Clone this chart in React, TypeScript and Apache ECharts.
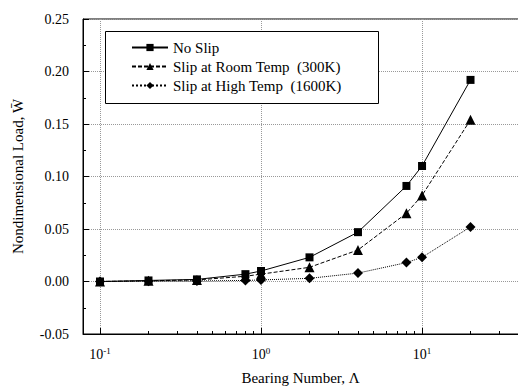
import React, { useEffect, useRef } from "react";
import * as echarts from "echarts";

const bearingNumbers = [0.1, 0.2, 0.4, 0.8, 1, 2, 4, 8, 10, 20];
const noSlip = [0.0, 0.001, 0.002, 0.007, 0.010, 0.023, 0.047, 0.091, 0.110, 0.192];
const slipRoom = [0.0, 0.0007, 0.0015, 0.005, 0.007, 0.0135, 0.030, 0.065, 0.082, 0.154];
const slipHigh = [0.0, 0.0003, 0.0005, 0.001, 0.0015, 0.003, 0.008, 0.018, 0.023, 0.052];
const seriesNames = ["No Slip", "Slip at Room Temp  (300K)", "Slip at High Temp  (1600K)"];
const majorTicks = [0.1, 1, 10];
const minorTicks = [0.2, 0.3, 0.4, 0.5, 0.6, 0.7, 0.8, 0.9, 2, 3, 4, 5, 6, 7, 8, 9, 20, 30, 40, 50];

const FONT = "Liberation Serif";

export default function App() {
  const ref = useRef<HTMLDivElement>(null);
  useEffect(() => {
    const chart = echarts.init(ref.current!, null, { renderer: "svg" });
    const pair = (ys: number[]) => bearingNumbers.map((x, i) => [x, ys[i]]);
    const xMin = 0.0784;
    const xMax = 52.5;
    chart.setOption({
      animation: false,
      grid: {
        left: 83,
        top: 19,
        right: -20,
        bottom: 57,
        outerBoundsMode: "none",
        containLabel: false,
        show: true,
        borderColor: "#000",
        borderWidth: 1,
      },
      graphic: [
        {
          type: "rect",
          shape: { x: 105.5, y: 31.5, width: 273, height: 72 },
          style: { fill: "#fff", stroke: "#000", lineWidth: 1 },
          z: 90,
        },
      ],
      legend: {
        left: 105,
        top: 31,
        orient: "vertical",
        padding: [9, 20, 9, 26],
        itemGap: 4,
        itemWidth: 36,
        itemHeight: 9,
        z: 100,
        textStyle: { fontFamily: FONT, fontSize: 15, color: "#000" },
        data: seriesNames,
      },
      xAxis: [
        {
          type: "log",
          logBase: 10,
          min: xMin,
          max: xMax,
          name: "Bearing Number, Λ",
          nameLocation: "middle",
          nameGap: 36,
          nameTextStyle: { fontFamily: FONT, fontSize: 15, color: "#000", padding: [0, 0, 0, -20] },
          axisLine: { onZero: false, lineStyle: { color: "#000", width: 1 } },
          axisTick: { inside: true, length: 6, customValues: majorTicks, lineStyle: { color: "#000" } },
          axisLabel: {
            customValues: majorTicks,
            margin: 12,
            fontFamily: FONT,
            formatter: (v: number) => "{b|10}{s|" + Math.round(Math.log10(v)) + "}",
            rich: {
              b: { fontFamily: FONT, fontSize: 14, color: "#000" },
              s: { fontFamily: FONT, fontSize: 9, color: "#000", padding: [0, 0, 8, 0] },
            },
          },
          splitLine: { show: true, lineStyle: { color: "#999", type: "dotted", width: 1 } },
        },
        {
          type: "log",
          logBase: 10,
          min: xMin,
          max: xMax,
          position: "bottom",
          axisLine: { show: false, onZero: false },
          axisTick: { inside: true, length: 3, customValues: minorTicks, lineStyle: { color: "#000" } },
          axisLabel: { show: false },
          splitLine: { show: false },
        },
      ],
      yAxis: {
        type: "value",
        min: -0.05,
        max: 0.25,
        interval: 0.05,
        name: "Nondimensional Load, W\u0304",
        nameLocation: "middle",
        nameGap: 58,
        nameTextStyle: { fontFamily: FONT, fontSize: 15, color: "#000" },
        axisLine: { show: true, onZero: false, lineStyle: { color: "#000" } },
        axisTick: { show: true, inside: true, length: 6, lineStyle: { color: "#000" } },
        minorTick: { show: true, splitNumber: 2, length: 3, lineStyle: { color: "#000" } },
        axisLabel: {
          margin: 14,
          fontFamily: FONT,
          fontSize: 14,
          color: "#000",
          formatter: (v: number) => v.toFixed(2),
        },
        splitLine: { show: true, lineStyle: { color: "#999", type: "dotted", width: 1 } },
      },
      series: [
        {
          name: seriesNames[0],
          type: "line",
          data: pair(noSlip),
          symbol: "rect",
          symbolSize: 8,
          itemStyle: { color: "#000" },
          lineStyle: { color: "#000", width: 1, type: "solid" },
          z: 3,
        },
        {
          name: seriesNames[1],
          type: "line",
          data: pair(slipRoom),
          symbol: "triangle",
          symbolSize: 10,
          itemStyle: { color: "#000" },
          lineStyle: { color: "#000", width: 1, type: [4, 2] },
          z: 3,
        },
        {
          name: seriesNames[2],
          type: "line",
          data: pair(slipHigh),
          symbol: "diamond",
          symbolSize: 10,
          itemStyle: { color: "#000" },
          lineStyle: { color: "#000", width: 1, type: "dotted" },
          z: 3,
        },
      ],
    });
    return () => chart.dispose();
  }, []);
  return <div ref={ref} style={{ width: 518, height: 391, position: "absolute", left: 0, top: 0, background: "#fff", overflow: "hidden" }} />;
}
